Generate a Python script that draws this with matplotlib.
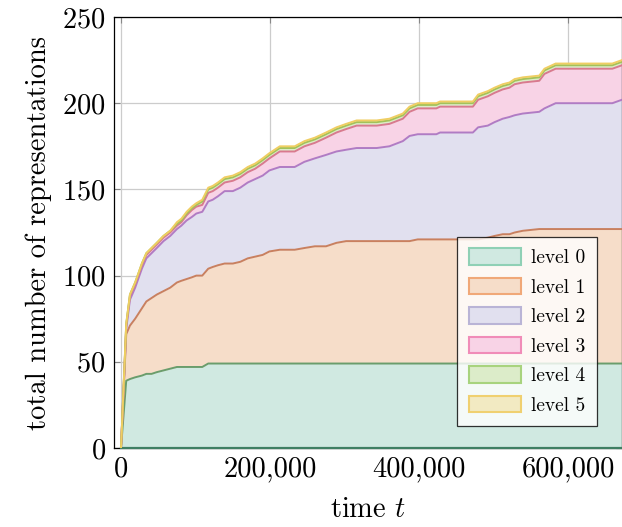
import numpy as np
import matplotlib
matplotlib.use("Agg")
import matplotlib.pyplot as plt
from matplotlib.patches import Patch
from matplotlib.ticker import FuncFormatter

plt.rcParams['font.family'] = 'cmr10'
plt.rcParams['mathtext.fontset'] = 'cm'
plt.rcParams['axes.formatter.use_mathtext'] = True

# time steps (in thousands)
time_k = [0, 7, 12, 19, 28, 34, 41, 48, 57, 66, 75, 81, 88, 95, 101, 109, 117, 123, 130, 139,
          150, 160, 170, 180, 190, 199, 213, 233, 246, 260, 275, 289, 302, 316, 343, 360, 378,
          387, 398, 423, 428, 472, 479, 492, 501, 512, 521, 528, 539, 561, 568, 583, 659, 672]

# number of representations per level at each time step
level0 = [0, 39, 40, 41, 42, 43, 43, 44, 45, 46, 47, 47, 47, 47, 47, 47, 49, 49, 49, 49,
          49, 49, 49, 49, 49, 49, 49, 49, 49, 49, 49, 49, 49, 49, 49, 49, 49,
          49, 49, 49, 49, 49, 49, 49, 49, 49, 49, 49, 49, 49, 49, 49, 49, 49]
level1 = [0, 27, 31, 34, 39, 42, 44, 45, 46, 47, 49, 50, 51, 52, 53, 53, 55, 56, 57, 58,
          58, 59, 61, 62, 63, 65, 66, 66, 67, 68, 68, 70, 71, 71, 71, 71, 71,
          71, 72, 72, 72, 72, 72, 73, 74, 75, 75, 76, 77, 78, 78, 78, 78, 78]
level2 = [0, 3, 15, 18, 23, 25, 26, 27, 29, 30, 31, 32, 34, 35, 36, 37, 39, 39, 40, 42,
          42, 43, 44, 45, 46, 47, 48, 48, 50, 51, 53, 53, 53, 54, 54, 55, 58,
          61, 61, 61, 62, 62, 65, 65, 66, 67, 68, 68, 68, 68, 70, 73, 73, 75]
level3 = [0, 2, 2, 2, 2, 2, 2, 2, 2, 2, 2, 2, 3, 4, 4, 4, 5, 5, 5, 5,
          6, 6, 6, 6, 7, 7, 9, 9, 9, 9, 10, 11, 12, 13, 13, 13, 13,
          14, 15, 15, 15, 15, 16, 17, 17, 17, 17, 18, 18, 18, 20, 20, 20, 20]
level4 = [0, 1, 1, 1, 1, 1, 1, 1, 1, 1, 1, 1, 1, 1, 1, 2, 2, 2, 2, 2,
          2, 2, 2, 2, 2, 2, 2, 2, 2, 2, 2, 2, 2, 2, 2, 2, 2,
          2, 2, 2, 2, 2, 2, 2, 2, 2, 2, 2, 2, 2, 2, 2, 2, 2]
level5 = [0, 0, 0, 0, 0, 0, 0, 0, 0, 0, 1, 1, 1, 1, 1, 1, 1, 1, 1, 1,
          1, 1, 1, 1, 1, 1, 1, 1, 1, 1, 1, 1, 1, 1, 1, 1, 1,
          1, 1, 1, 1, 1, 1, 1, 1, 1, 1, 1, 1, 1, 1, 1, 1, 1]

labels = ['level 0', 'level 1', 'level 2', 'level 3', 'level 4', 'level 5']
fill_colors = ['#d0e9e1', '#f6ddc9', '#e1e0ef', '#f8d3e6', '#dcecc9', '#f2eac2']
edge_colors = ['#8fd0b5', '#f0a878', '#b9b4d6', '#f08cb8', '#a8d37e', '#f0d070']
line_colors = ['#6a9d6c', '#c9805f', '#b07cc4', '#d9798f', '#a3c25a', '#efce63']

t = np.array(time_k) * 1000
levels = np.array([level0, level1, level2, level3, level4, level5])
tops = np.cumsum(levels, axis=0)

fig = plt.figure(figsize=(6.22, 5.27), dpi=100)
ax = fig.add_axes([114/622, 79/527, 508/622, 431/527])

bottom = np.zeros(len(t))
for i in range(len(labels)):
	ax.fill_between(t, bottom, tops[i], color=fill_colors[i], lw=0, zorder=2)
	bottom = tops[i]
ax.plot(t, np.zeros(len(t)), color='#3f7f63', lw=1.6, zorder=3, clip_on=False)
for i in range(len(labels)):
	ax.plot(t, tops[i], color=line_colors[i], lw=1.4, zorder=3)

ax.set_xlim(-9400, 672000)
ax.set_ylim(0, 250)
ax.set_xticks([0, 200000, 400000, 600000])
ax.set_yticks([0, 50, 100, 150, 200, 250])
ax.xaxis.set_major_formatter(FuncFormatter(lambda v, p: '{:,.0f}'.format(v)))
ax.grid(True, color='#cccccc', lw=0.9, zorder=1)
ax.set_axisbelow(True)
ax.tick_params(direction='in', length=4, color='#888888', labelsize=20.5, top=True, right=True, pad=6)
for s in ax.spines.values():
	s.set_linewidth(0.9)

ax.set_xlabel('time $t$', fontsize=20.5, labelpad=10)
ax.set_ylabel('total number of representations', fontsize=20.5, labelpad=7)

handles = [Patch(facecolor=fill_colors[i], edgecolor=edge_colors[i], lw=1.5)
	for i in range(len(labels))]
leg = ax.legend(handles, labels, loc='upper right', bbox_to_anchor=(0.951, 0.49),
	fontsize=14, fancybox=False, framealpha=0.8, edgecolor='black',
	handlelength=2.7, handleheight=0.9, labelspacing=0.55, borderpad=0.6,
	handletextpad=0.5, borderaxespad=0)
leg.get_frame().set_linewidth(0.9)
leg.set_zorder(5)

plt.savefig('out.png', dpi=100)
